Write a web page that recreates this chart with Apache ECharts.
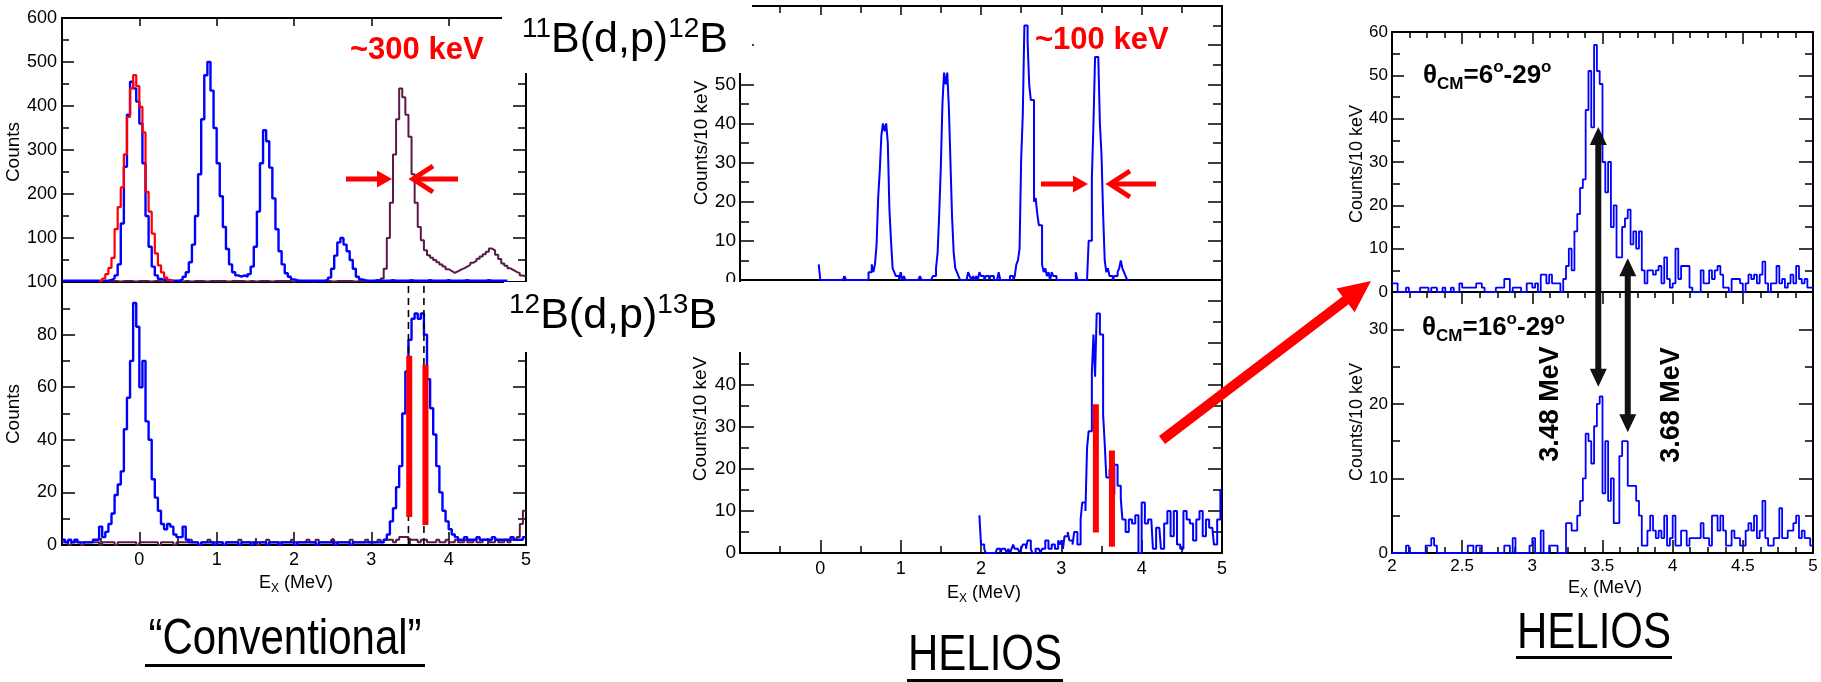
<!DOCTYPE html>
<html><head><meta charset="utf-8">
<script src="https://cdn.jsdelivr.net/npm/echarts/dist/echarts.min.js"></script>
<style>html,body{margin:0;padding:0;background:#fff}#c{width:1821px;height:682px}</style>
</head><body><div id="c"></div>
<script>
// ---------------- DATA ----------------
// "Conventional" spectra: 0.04 MeV bins
const convBin = 0.04;
const convTopBlueStart = -1.0;
const convTopBlue = [
3,3,3,3,3,3,3,3,3,3,
3,3,3,3,3,5,8,15,40,133,
262,380,455,440,410,360,270,150,80,35,
15,7,5,4,3,3,3,3,6,12,
22,45,85,150,245,370,470,500,435,350,
270,195,125,75,40,22,15,12,15,12,
18,35,80,160,270,345,320,260,190,120,
70,40,20,12,6,4,3,3,3,3,
3,3,3,3,3,5,10,30,60,90,
100,85,70,50,30,12,6,4,3,3,
3,4,3,3,3,3,4,3,3,3,
3,3,4,3,3,3,3,3,4,3,
3,3,3,3,4,3,3,3,3,3,
4,3,3,3,3,3,3,4,3,3,
3,3,3,3];
const convTopRedStart = -0.52;
const convTopRed = [2,8,18,32,55,120,170,215,290,375,440,470,445,398,340,205,160,110,65,38,22,10,5,2];
const convTopMaroonStart = -0.52;
const convTopMaroon = [
2,2,1,2,2,2,1,2,
2,2,2,1,2,2,2,2,1,2,
2,2,1,2,2,2,2,2,1,2,
2,1,2,2,2,2,1,2,2,2,
2,2,2,1,2,2,2,2,2,1,
2,2,1,2,2,2,2,1,2,2,
2,2,2,2,1,2,2,2,2,2,
1,2,2,2,2,2,2,1,2,2,
2,2,2,2,1,2,2,2,2,2,
2,2,3,8,30,100,180,290,370,440,
420,380,330,245,180,125,95,72,61,55,
50,45,40,35,29,25,21,24,28,31,
35,39,44,48,53,58,63,69,76,72,
62,52,42,37,31,27,23,20,15,12];
const convBotStart = -1.0;
const convBotBlue = [
2,1,2,1,2,1,1,1,1,1,
2,2,7,3,5,8,12,19,23,28,
44,56,70,92,83,60,70,47,40,25,
18,13,8,6,8,7,4,3,3,7,
2,1,1,1,0,1,1,1,1,0,
1,1,0,1,1,1,1,0,1,1,
1,0,1,1,1,1,0,1,1,1,
0,1,1,1,1,0,1,1,1,1,
1,1,0,1,1,1,1,1,0,1,
1,1,1,0,1,1,1,1,1,1,
1,1,1,1,2,4,9,14,22,30,
50,66,78,86,88,86,88,80,63,52,
42,30,20,13,9,6,4,3,2,2,
3,2,2,2,3,2,2,2,2,3,
2,2,2,2,2,3,2,2,2,3];
const convBotMaroon = [
1,1,0,1,1,1,0,1,1,1,
1,1,0,1,1,1,1,0,1,1,
1,1,1,1,0,1,1,1,1,1,
1,0,1,1,1,1,0,1,1,1,
1,2,1,1,0,1,1,2,1,1,
1,1,0,1,1,1,1,2,1,1,
1,1,1,0,1,1,2,1,1,1,
1,1,1,1,2,1,1,1,1,2,
1,1,2,1,1,1,1,2,1,1,
1,1,1,2,1,1,1,1,2,1,
1,1,2,1,2,2,2,1,2,3,
3,3,2,2,2,1,2,2,1,1,
1,2,1,1,2,1,1,2,1,1,
2,1,1,2,1,1,2,2,1,1,
2,1,1,2,1,2,2,3,8,13];
// Calculated-state markers (MeV, counts)
const convStates = [{e:3.49, lo:10.6, hi:72}, {e:3.70, lo:7.6, hi:68.5}];
const convDashed = [3.48, 3.68];

// HELIOS middle spectra: 0.02 MeV bins
const helBin = 0.02;
const helTopStart = -0.02;
const helTop = [
4,0,0,0,0,0,0,0,0,0,
0,0,0,0,0,0,1,0,0,0,
0,0,0,0,0,0,0,0,0,0,
0,2,2,4,2,4,9,21,28,37,
40,38,40,35,18,10,3,2,1,1,
0,2,0,1,0,0,0,0,0,0,
0,0,0,1,0,0,0,0,0,0,
0,1,1,3,7,17,29,45,53,50,
53,44,30,16,7,3,2,1,0,0,
0,0,0,2,1,0,1,0,1,0,
2,1,1,0,1,1,0,1,1,0,
0,0,2,0,0,0,0,0,0,1,
1,0,1,4,5,8,31,42,65,65,
61,50,46,46,20,21,17,14,14,4,
2,3,1,2,0,2,1,1,0,0,
0,0,0,0,0,0,0,0,0,0,
2,0,0,0,0,0,0,0,10,10,
26,40,57,57,57,40,32,17,5,2,
3,1,1,0,1,1,2,3,5,3,
2,1,0];
const helBotStart = 1.98;
const helBot = [
9,2,2,1,0,0,0,0,0,0,
0,1,1,0,1,1,1,0,1,0,
1,2,1,1,1,0,1,2,2,1,
3,3,1,0,0,1,1,1,0,1,
1,3,3,1,1,2,2,1,1,3,
2,3,1,4,4,5,3,3,2,5,
5,2,2,8,12,12,10,25,29,29,
43,52,42,57,57,52,52,33,26,18,
18,20,14,14,21,21,16,16,13,8,
8,5,5,8,8,7,7,9,9,0,
0,12,12,7,7,8,8,8,1,1,
6,6,6,1,1,7,7,10,10,4,
4,10,10,2,2,1,1,10,10,8,
8,7,7,3,3,8,8,10,10,4,
4,8,8,6,6,6,2,2,8,8,
15];
const helStates = [{e:3.43, lo:4.9, hi:35.4}, {e:3.63, lo:1.5, hi:24.4}];

// HELIOS right spectra: 0.02 MeV bins from 2.0 MeV
const angStart = 2.0;
const ang6to29 = [
2,2,0,0,0,1,0,0,0,0,
1,1,1,0,1,1,0,0,1,0,
0,1,0,0,2,1,1,1,1,1,
2,2,1,0,0,0,0,1,1,1,
3,3,0,1,1,1,0,0,2,2,
1,2,0,4,4,2,4,2,2,2,
0,3,6,10,5,14,18,24,26,42,
51,38,57,51,48,30,23,30,15,20,
8,8,15,17,19,11,14,10,14,5,
2,5,5,4,5,6,2,8,3,1,
2,10,3,6,6,6,1,0,0,0,
5,2,2,5,3,5,6,4,1,1,
0,3,3,3,2,0,2,4,3,4,
2,4,7,2,0,2,2,6,2,3,
1,2,4,2,6,3,2,3,1,1];
const ang16to29 = [
0,0,0,0,0,1,0,0,0,0,
0,0,1,1,2,1,0,0,0,0,
0,0,0,0,0,0,0,1,1,0,
1,1,0,0,0,0,0,0,0,0,
1,1,0,2,0,0,0,0,0,1,
2,0,0,3,0,0,1,1,1,0,
0,0,4,4,3,3,5,7,10,16,
15,12,17,20,21,8,15,7,10,4,
4,13,15,15,9,9,9,7,5,1,
1,3,5,3,2,3,2,5,1,2,
5,1,1,3,3,1,2,2,2,2,
4,2,2,1,5,5,3,5,3,1,
1,3,2,2,1,1,3,4,3,5,
2,3,7,2,1,1,2,2,6,2,
2,3,3,4,5,2,3,2,2,1];
// arrows marking states: [energy, count at top-panel tip, count at bottom-panel tip]
const stateArrows = [[3.47, 38.1, 22.3], [3.68, 7.8, 16.2]];

// axis ranges
const convTopY = {min:0, max:600, step:100};
const convBotY = {min:0, max:100, step:20};
const helTopY = {min:0, max:70, step:10};
const helBotY = {min:0, max:65, step:10};
const angTopY = {min:0, max:60, step:10};
const angBotY = {min:0, max:35, step:10};
const exRangeWide = {min:-1, max:5, step:1};
const exRangeZoom = {min:2, max:5, step:0.5};

// ---------------- CHART ----------------
const FONT = 'Liberation Sans, Arial, Helvetica, sans-serif';
const chart = echarts.init(document.getElementById('c'), null, {renderer:'canvas', width:1821, height:682});
const K = '#000';
const BLUE = '#0000ff', RED = '#ff0000', MAROON = '#5b1a45';

const grids = [
  [62, 18, 464, 264], [62, 282, 464, 263],
  [740, 6, 482, 274], [740, 280, 482, 273],
  [1392, 32, 421, 260], [1392, 292, 421, 261]
].map(g => ({left:g[0], top:g[1], width:g[2], height:g[3], containLabel:false, outerBoundsMode:'none', show:false}));

function ax(type, g, pos, r, o) {
  o = o || {};
  return {
    type:'value', gridIndex:g, position:pos, min:r.min, max:r.max, interval:r.step,
    axisLine:{show:true, onZero:false, lineStyle:{color:K, width:2}},
    axisTick:{show:!!o.maj, inside:true, length:o.maj||0, lineStyle:{color:K, width:1.5}},
    minorTick:{show:!!o.min, splitNumber:o.split||2, length:o.min||0, lineStyle:{color:K, width:1.5}},
    splitLine:{show:false}, minorSplitLine:{show:false},
    axisLabel:{show:!!o.fs, fontSize:o.fs||12, margin:o.margin||4, color:K, fontFamily:FONT,
      showMinLabel:o.hideMin ? false : true, showMaxLabel:o.hideMax ? false : true}
  };
}
const xAxis = [
  ax('x',0,'bottom',exRangeWide,{}),
  ax('x',0,'top',exRangeWide,{maj:8}),
  ax('x',1,'bottom',exRangeWide,{maj:13,min:7,fs:18,margin:6,hideMin:true}),
  ax('x',1,'top',exRangeWide,{}),
  ax('x',2,'bottom',exRangeWide,{}),
  ax('x',2,'top',exRangeWide,{maj:9,min:7}),
  ax('x',3,'bottom',exRangeWide,{maj:13,min:7,fs:18,margin:7,hideMin:true}),
  ax('x',3,'top',exRangeWide,{}),
  ax('x',4,'bottom',exRangeZoom,{}),
  ax('x',4,'top',exRangeZoom,{maj:12,min:6,split:4}),
  ax('x',5,'bottom',exRangeZoom,{maj:13,min:6,split:4,fs:17,margin:5}),
  ax('x',5,'top',exRangeZoom,{maj:12,min:6,split:4})
];
const yAxis = [
  ax('y',0,'left',convTopY,{maj:12,min:7,fs:18,margin:5,hideMin:true}),
  ax('y',0,'right',convTopY,{maj:13,min:8}),
  ax('y',1,'left',convBotY,{maj:13,min:8,fs:18,margin:5}),
  ax('y',1,'right',convBotY,{maj:13,min:8}),
  ax('y',2,'left',helTopY,{maj:14,min:9,fs:19,margin:4}),
  ax('y',2,'right',helTopY,{maj:14,min:9}),
  ax('y',3,'left',helBotY,{maj:14,min:9,fs:19,margin:4,hideMax:true}),
  ax('y',3,'right',helBotY,{maj:14,min:9}),
  ax('y',4,'left',angTopY,{maj:12,min:8,fs:17,margin:4}),
  ax('y',4,'right',angTopY,{maj:14,min:8}),
  ax('y',5,'left',angBotY,{maj:12,min:8,fs:17,margin:4,hideMax:true}),
  ax('y',5,'right',angBotY,{maj:14,min:8})
];

function hist(start, w, vals) {
  const d = [];
  for (let i = 0; i < vals.length; i++) d.push([start + i * w, vals[i]]);
  d.push([start + vals.length * w, vals[vals.length - 1]]);
  return d;
}
function hs(g, start, w, vals, color, width, z) {
  return {type:'line', xAxisIndex:2*g, yAxisIndex:2*g, data:hist(start, w, vals), step:'end',
    symbol:'none', lineStyle:{color:color, width:width}, itemStyle:{color:color}, z:z||2,
    silent:true, animation:false, clip:true};
}
function seg(g, pts, color, width, type, z) {
  return {type:'line', xAxisIndex:2*g, yAxisIndex:2*g, data:pts, symbol:'none',
    lineStyle:{color:color, width:width, type:type||'solid', cap:'butt'}, z:z||5, silent:true, animation:false, clip:true};
}
const series = [
  hs(0, convTopMaroonStart, convBin, convTopMaroon, MAROON, 2, 2),
  hs(0, convTopBlueStart, convBin, convTopBlue, BLUE, 2.4, 3),
  hs(0, convTopRedStart, convBin, convTopRed, RED, 2.2, 4),
  hs(1, convBotStart, convBin, convBotMaroon, MAROON, 2, 2),
  hs(1, convBotStart, convBin, convBotBlue, BLUE, 2.4, 3),
  hs(2, helTopStart, helBin, helTop, BLUE, 2, 3),
  hs(3, helBotStart, helBin, helBot, BLUE, 2, 3),
  hs(4, angStart, helBin, ang6to29, BLUE, 1.8, 3),
  hs(5, angStart, helBin, ang16to29, BLUE, 1.8, 3)
];
convDashed.forEach(e => series.push(seg(1, [[e, convBotY.min], [e, convBotY.max]], K, 1.6, [7,5], 4)));
convStates.forEach(s => series.push(seg(1, [[s.e, s.lo], [s.e, s.hi]], RED, 6, 'solid', 6)));
helStates.forEach(s => series.push(seg(3, [[s.e, s.lo], [s.e, s.hi]], RED, 6, 'solid', 6)));

chart.setOption({animation:false, backgroundColor:'#fff', grid:grids, xAxis:xAxis, yAxis:yAxis, series:series});

// ---------------- ANNOTATIONS ----------------
function arrow(x1, y1, x2, y2, w, hl, hw, color, dbl) {
  const dx = x2 - x1, dy = y2 - y1, L = Math.hypot(dx, dy), ux = dx / L, uy = dy / L, nx = -uy, ny = ux;
  const bx = x2 - ux * hl, by = y2 - uy * hl;
  let pts;
  if (dbl) {
    const sx = x1 + ux * hl, sy = y1 + uy * hl;
    pts = [[x1,y1],[sx+nx*hw/2,sy+ny*hw/2],[sx+nx*w/2,sy+ny*w/2],[bx+nx*w/2,by+ny*w/2],[bx+nx*hw/2,by+ny*hw/2],[x2,y2],
           [bx-nx*hw/2,by-ny*hw/2],[bx-nx*w/2,by-ny*w/2],[sx-nx*w/2,sy-ny*w/2],[sx-nx*hw/2,sy-ny*hw/2]];
  } else {
    pts = [[x1+nx*w/2,y1+ny*w/2],[bx+nx*w/2,by+ny*w/2],[bx+nx*hw/2,by+ny*hw/2],[x2,y2],
           [bx-nx*hw/2,by-ny*hw/2],[bx-nx*w/2,by-ny*w/2],[x1-nx*w/2,y1-ny*w/2]];
  }
  return {type:'polygon', shape:{points:pts}, style:{fill:color}, z:60, silent:true};
}
function chevronArrow(tailX, tipX, y, color) {
  const dir = tailX > tipX ? 1 : -1;
  return [
    {type:'line', shape:{x1:tailX, y1:y, x2:tipX + dir*2, y2:y}, style:{stroke:color, lineWidth:5}, z:60, silent:true},
    {type:'polyline', shape:{points:[[tipX + dir*22, y - 13], [tipX + dir*2, y], [tipX + dir*22, y + 13]]},
      style:{stroke:color, lineWidth:5, fill:null, lineJoin:'miter'}, z:60, silent:true}
  ];
}
function txt(x, y, text, o) {
  o = o || {};
  return {type:'text', x:x, y:y, rotation:o.rot||0, scaleX:o.sx||1, z:o.z||55, silent:true,
    style:{text:text, fill:o.color||K, fontSize:o.fs||18, fontFamily:FONT, fontWeight:o.fw||'normal',
      align:o.align||'center', verticalAlign:'middle', textAlign:o.align||'center', textVerticalAlign:'middle',
      rich:o.rich}};
}
function rect(x, y, w, h, fill, z) {
  return {type:'rect', shape:{x:x, y:y, width:w, height:h}, style:{fill:fill}, z:z||40, silent:true};
}
const P = (g, x, y) => chart.convertToPixel({xAxisIndex:2*g, yAxisIndex:2*g}, [x, y]);

const supRich = {m:{fontSize:43, lineHeight:49, fontFamily:FONT, fill:K, verticalAlign:'middle'},
                 s:{fontSize:28, lineHeight:28, fontFamily:FONT, fill:K, verticalAlign:'top'}};
const thetaRich = {m:{fontSize:26, lineHeight:34, fontFamily:FONT, fontWeight:'bold', fill:K, verticalAlign:'middle'},
                   b:{fontSize:17, lineHeight:17, fontFamily:FONT, fontWeight:'bold', fill:K, verticalAlign:'bottom'},
                   t:{fontSize:17, lineHeight:17, fontFamily:FONT, fontWeight:'bold', fill:K, verticalAlign:'top'}};
const exRich = {m:{fontSize:18, lineHeight:24, fontFamily:FONT, fill:K, verticalAlign:'middle'},
                b:{fontSize:12, lineHeight:12, fontFamily:FONT, fill:K, verticalAlign:'bottom'}};

const G = [];
// white label boxes
G.push(rect(502, 0, 250, 73, '#fff', 40));
G.push(rect(504, 282, 250, 70, '#fff', 40));
G.push(rect(0, 0, 11, 560, '#fff', 45));
// reaction labels
G.push(txt(522, 40, '{s|11}{m|B(d,p)}{s|12}{m|B}', {align:'left', rich:supRich}));
G.push(txt(509, 316, '{s|12}{m|B(d,p)}{s|13}{m|B}', {align:'left', rich:supRich}));
// resolution labels & arrows
G.push(txt(350, 50, '~300 keV', {align:'left', fs:31, fw:'bold', color:RED}));
G.push(txt(1035, 40, '~100 keV', {align:'left', fs:31, fw:'bold', color:RED}));
G.push(arrow(346, 179, 392, 179, 5, 15, 17, RED, false));
chevronArrow(458, 411, 179, RED).forEach(e => G.push(e));
G.push(arrow(1041, 184, 1088, 184, 5, 15, 17, RED, false));
chevronArrow(1156, 1108, 184, RED).forEach(e => G.push(e));
// big red arrow to the right panel
G.push(arrow(1162, 440, 1371, 281, 10, 32, 30, RED, false));
// state arrows (right panel)
stateArrows.forEach(a => {
  const top = P(4, a[0], a[1]), bot = P(5, a[0], a[2]);
  G.push(arrow(top[0], top[1], bot[0], bot[1], 6, 18, 17, '#111', true));
});
G.push(txt(1551, 404, '3.48 MeV', {fs:27, fw:'bold', rot:Math.PI/2}));
G.push(txt(1672, 405, '3.68 MeV', {fs:27, fw:'bold', rot:Math.PI/2}));
// angle labels
G.push(txt(1423, 76, '{m|θ}{b|CM}{m|=6}{t|o}{m|-29}{t|o}', {align:'left', rich:thetaRich}));
G.push(txt(1422, 328, '{m|θ}{b|CM}{m|=16}{t|o}{m|-29}{t|o}', {align:'left', rich:thetaRich}));
// axis names
G.push(txt(14, 152, 'Counts', {fs:19, rot:Math.PI/2}));
G.push(txt(14, 414, 'Counts', {fs:19, rot:Math.PI/2}));
G.push(txt(702, 143, 'Counts/10 keV', {fs:19, rot:Math.PI/2}));
G.push(txt(701, 419, 'Counts/10 keV', {fs:19, rot:Math.PI/2}));
G.push(txt(1357, 164, 'Counts/10 keV', {fs:18, rot:Math.PI/2}));
G.push(txt(1357, 422, 'Counts/10 keV', {fs:18, rot:Math.PI/2}));
G.push(txt(296, 583, '{m|E}{b|X}{m| (MeV)}', {rich:exRich}));
G.push(txt(984, 593, '{m|E}{b|X}{m| (MeV)}', {rich:exRich}));
G.push(txt(1605, 588, '{m|E}{b|X}{m| (MeV)}', {rich:exRich}));
// panel titles (condensed look)
G.push(txt(285, 640, '\u201CConventional\u201D', {fs:50, sx:0.84}));
G.push(rect(145, 664, 280, 3, K, 55));
G.push(txt(985, 656, 'HELIOS', {fs:50, sx:0.84}));
G.push(rect(907, 679, 156, 3, K, 55));
G.push(txt(1594, 634, 'HELIOS', {fs:50, sx:0.84}));
G.push(rect(1516, 656, 156, 3, K, 55));

chart.setOption({graphic:{elements:G}});
</script></body></html>
